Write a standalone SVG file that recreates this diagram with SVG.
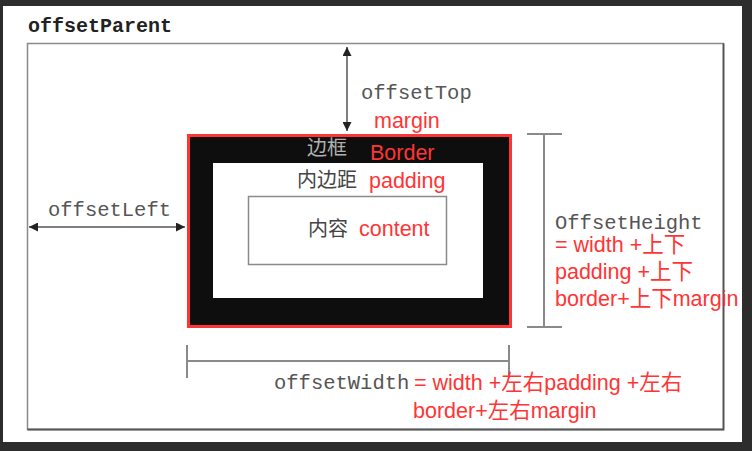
<svg xmlns="http://www.w3.org/2000/svg" width="752" height="451" viewBox="0 0 752 451">
<defs>
<marker id="ah" viewBox="0 0 10 10" refX="10" refY="5" markerWidth="9" markerHeight="9" markerUnits="userSpaceOnUse" orient="auto-start-reverse">
<path d="M0,0 L10,5 L0,10 z" fill="#222"/>
</marker>
<style>
.mono{font-family:"Liberation Mono","DejaVu Sans Mono",monospace;font-size:20.5px;fill:#555}
.red{font-family:"Liberation Sans","Noto Sans CJK SC",sans-serif;font-size:21.5px;fill:#ff3535}
.cn{font-family:"Noto Sans CJK SC",sans-serif;font-size:20px}
.arrow{stroke:#555;stroke-width:1.5;fill:none}
.bracket{stroke:#8a8a8a;stroke-width:2;fill:none}
</style>
</defs>
<rect x="0" y="0" width="752" height="451" fill="#2d2d2d"/>
<rect x="3" y="6" width="739" height="436" fill="#ffffff"/>
<g id="offsetParent">
<text x="28" y="32" style="font-family:'Liberation Mono',monospace;font-size:20px;font-weight:bold;fill:#222">offsetParent</text>
<rect x="27.5" y="43.5" width="696" height="386" fill="none" stroke="#8a8a8a" stroke-width="1.5"/>
<path d="M723.5,43.5 V429.5 H27.5" fill="none" stroke="#555" stroke-width="1.8"/>
</g>
<g id="box">
<rect x="188.5" y="135.5" width="322" height="191" fill="#0e0e0e" stroke="#ff3535" stroke-width="3"/>
<text x="307" y="155" class="cn" fill="#b0b0b0">边框</text>
<rect x="213" y="163" width="270" height="135" fill="#ffffff"/>
<text x="297" y="187" class="cn" fill="#444">内边距</text>
<rect x="248.5" y="196.5" width="198" height="68" fill="#fff" stroke="#8a8a8a" stroke-width="1.5"/>
<text x="308" y="236" class="cn" fill="#444">内容</text>
</g>
<g id="labels-red">
<text x="374" y="128" class="red">margin</text>
<text x="370" y="160" class="red">Border</text>
<text x="369" y="188" class="red">padding</text>
<text x="359" y="236" class="red">content</text>
</g>
<g id="connectors">
<line x1="347" y1="47" x2="347" y2="131" class="arrow" marker-start="url(#ah)" marker-end="url(#ah)"/>
<line x1="29" y1="227" x2="185" y2="227" class="arrow" marker-start="url(#ah)" marker-end="url(#ah)"/>
<path d="M527,134 H562 M544,134 V327 M527,327 H562" class="bracket"/>
<path d="M187,345 V378 M187,361 H509 M509,345 V378" class="bracket"/>
</g>
<g id="offsetTop"><text x="361" y="99" class="mono">offsetTop</text></g>
<g id="offsetLeft"><text x="48" y="216" class="mono">offsetLeft</text></g>
<g id="offsetHeight">
<text x="555" y="229" class="mono">OffsetHeight</text>
<text x="555" y="252" class="red">= width +上下</text>
<text x="555" y="279" class="red">padding +上下</text>
<text x="555" y="306" class="red">border+上下margin</text>
</g>
<g id="offsetWidth">
<text x="274" y="389" class="mono">offsetWidth</text>
<text x="414" y="390" class="red">= width +左右padding +左右</text>
<text x="413" y="418" class="red">border+左右margin</text>
</g>
</svg>
